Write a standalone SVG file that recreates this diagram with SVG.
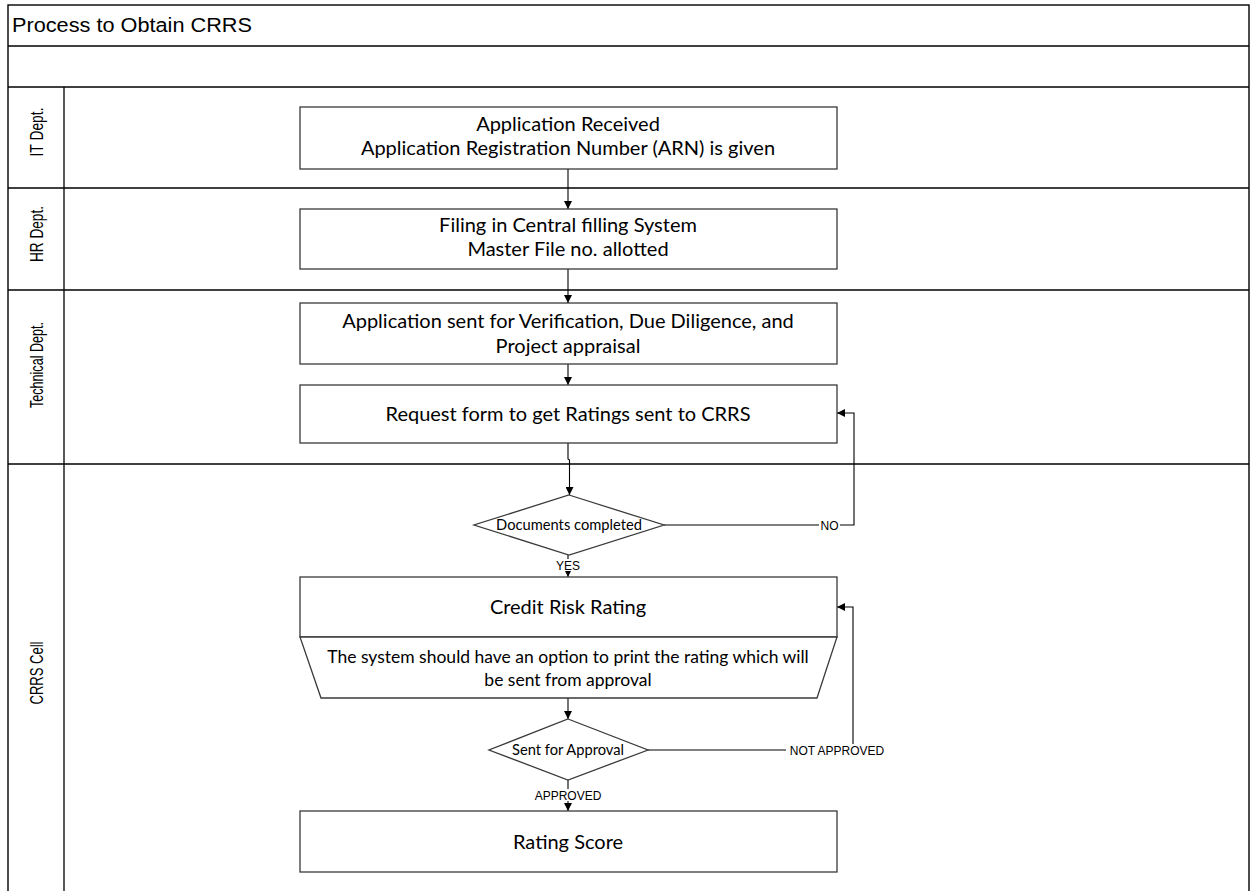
<svg xmlns="http://www.w3.org/2000/svg" width="1252" height="891" viewBox="0 0 1252 891">
  <style>
    .frame { fill: none; stroke: #000; stroke-width: 1.4; }
    .lane { stroke: #000; stroke-width: 1.3; }
    .box { fill: #fff; stroke: #3a3a3a; stroke-width: 1.3; }
    .conn { fill: none; stroke: #000; stroke-width: 1.1; }
    .title { font-family: "Liberation Sans", Arial, sans-serif; font-size: 20px; fill: #000; }
    .laneLabel { font-family: "Liberation Sans", Arial, sans-serif; font-size: 18.5px; fill: #000; text-anchor: middle; }
    .txt { font-family: Lato, "Open Sans", sans-serif; font-size: 20px; fill: #000; text-anchor: middle; }
    .note { font-family: Lato, "Open Sans", sans-serif; font-size: 17.5px; fill: #000; text-anchor: middle; }
    .dtxt { font-family: Lato, "Open Sans", sans-serif; font-size: 14.7px; fill: #000; text-anchor: middle; }
    .lbl { font-family: "Liberation Sans", Arial, sans-serif; font-size: 12px; fill: #000; text-anchor: middle; }
    .lblbg { fill: #fff; }
  </style>
  <defs>
    <marker id="arrow" viewBox="0 0 8 8" refX="8" refY="4" markerWidth="8" markerHeight="8" markerUnits="userSpaceOnUse" orient="auto">
      <path d="M0,0 L8,4 L0,8 Z" fill="#000"/>
    </marker>
  </defs>

  <rect width="1252" height="891" fill="#fff"/>

  <!-- swimlane frame -->
  <g id="pool">
    <rect class="frame" x="8" y="5" width="1241" height="890"/>
    <line class="lane" x1="8" y1="46" x2="1249" y2="46"/>
    <line class="lane" x1="8" y1="87" x2="1249" y2="87"/>
    <line class="lane" x1="8" y1="188" x2="1249" y2="188"/>
    <line class="lane" x1="8" y1="290" x2="1249" y2="290"/>
    <line class="lane" x1="8" y1="464" x2="1249" y2="464"/>
    <line class="lane" x1="64" y1="87" x2="64" y2="891"/>
    <text class="title" x="12" y="32" textLength="240" lengthAdjust="spacingAndGlyphs">Process to Obtain CRRS</text>
  </g>

  <g id="lane-it">
    <text class="laneLabel" transform="translate(42.5,132) rotate(-90)" textLength="49" lengthAdjust="spacingAndGlyphs">IT Dept.</text>
  </g>
  <g id="lane-hr">
    <text class="laneLabel" transform="translate(42.5,234) rotate(-90)" textLength="56" lengthAdjust="spacingAndGlyphs">HR Dept.</text>
  </g>
  <g id="lane-technical">
    <text class="laneLabel" transform="translate(42.5,365) rotate(-90)" textLength="86" lengthAdjust="spacingAndGlyphs">Technical Dept.</text>
  </g>
  <g id="lane-crrs">
    <text class="laneLabel" transform="translate(42.5,673) rotate(-90)" textLength="63" lengthAdjust="spacingAndGlyphs">CRRS Cell</text>
  </g>

  <!-- connectors -->
  <g id="connectors">
    <line class="conn" x1="568" y1="169" x2="568" y2="209" marker-end="url(#arrow)"/>
    <line class="conn" x1="568" y1="269" x2="568" y2="303" marker-end="url(#arrow)"/>
    <line class="conn" x1="568" y1="364" x2="568" y2="385" marker-end="url(#arrow)"/>
    <path class="conn" d="M568,443 L568,459 L569.5,460 L569.5,495" marker-end="url(#arrow)"/>
    <path class="conn" d="M664,525 L854,525 L854,413 L837,413" marker-end="url(#arrow)"/>
    <line class="conn" x1="568" y1="555" x2="568" y2="577" marker-end="url(#arrow)"/>
    <line class="conn" x1="568" y1="698" x2="568" y2="719" marker-end="url(#arrow)"/>
    <path class="conn" d="M648,750 L853,750 L853,607 L837,607" marker-end="url(#arrow)"/>
    <line class="conn" x1="568" y1="780" x2="568" y2="811" marker-end="url(#arrow)"/>
    <!-- connector labels -->
    <rect class="lblbg" x="819" y="519" width="21" height="12"/>
    <text class="lbl" x="829.5" y="529.5">NO</text>
    <rect class="lblbg" x="554" y="559" width="28" height="12"/>
    <text class="lbl" x="568" y="569.5">YES</text>
    <rect class="lblbg" x="786" y="744" width="102" height="12"/>
    <text class="lbl" x="837" y="754.5">NOT APPROVED</text>
    <rect class="lblbg" x="532" y="789" width="72" height="12"/>
    <text class="lbl" x="568" y="799.5">APPROVED</text>
  </g>

  <g id="node-application-received">
    <rect class="box" x="300" y="107" width="537" height="62"/>
    <text class="txt" x="568" y="131">Application Received</text>
    <text class="txt" x="568" y="155">Application Registration Number (ARN) is given</text>
  </g>

  <g id="node-filing">
    <rect class="box" x="300" y="209" width="537" height="60"/>
    <text class="txt" x="568" y="232">Filing in Central filling System</text>
    <text class="txt" x="568" y="256">Master File no. allotted</text>
  </g>

  <g id="node-verification">
    <rect class="box" x="300" y="303" width="537" height="61"/>
    <text class="txt" x="568" y="328">Application sent for Verification, Due Diligence, and</text>
    <text class="txt" x="568" y="353">Project appraisal</text>
  </g>

  <g id="node-request-form">
    <rect class="box" x="300" y="385" width="537" height="58"/>
    <text class="txt" x="568" y="421">Request form to get Ratings sent to CRRS</text>
  </g>

  <g id="node-documents-completed">
    <polygon class="box" points="569,495 664,525 569,555 474,525"/>
    <text class="dtxt" x="569" y="530">Documents completed</text>
  </g>

  <g id="node-credit-risk-rating">
    <rect class="box" x="300" y="577" width="537" height="60"/>
    <text class="txt" x="568" y="614">Credit Risk Rating</text>
    <polygon class="box" points="300,637 837,637 817,698 321,698"/>
    <text class="note" x="568" y="663">The system should have an option to print the rating which will</text>
    <text class="note" x="568" y="686">be sent from approval</text>
  </g>

  <g id="node-sent-for-approval">
    <polygon class="box" points="568,719 648,750 568,780 489,750"/>
    <text class="dtxt" x="568" y="755">Sent for Approval</text>
  </g>

  <g id="node-rating-score">
    <rect class="box" x="300" y="811" width="537" height="61"/>
    <text class="txt" x="568" y="848.5">Rating Score</text>
  </g>
</svg>
